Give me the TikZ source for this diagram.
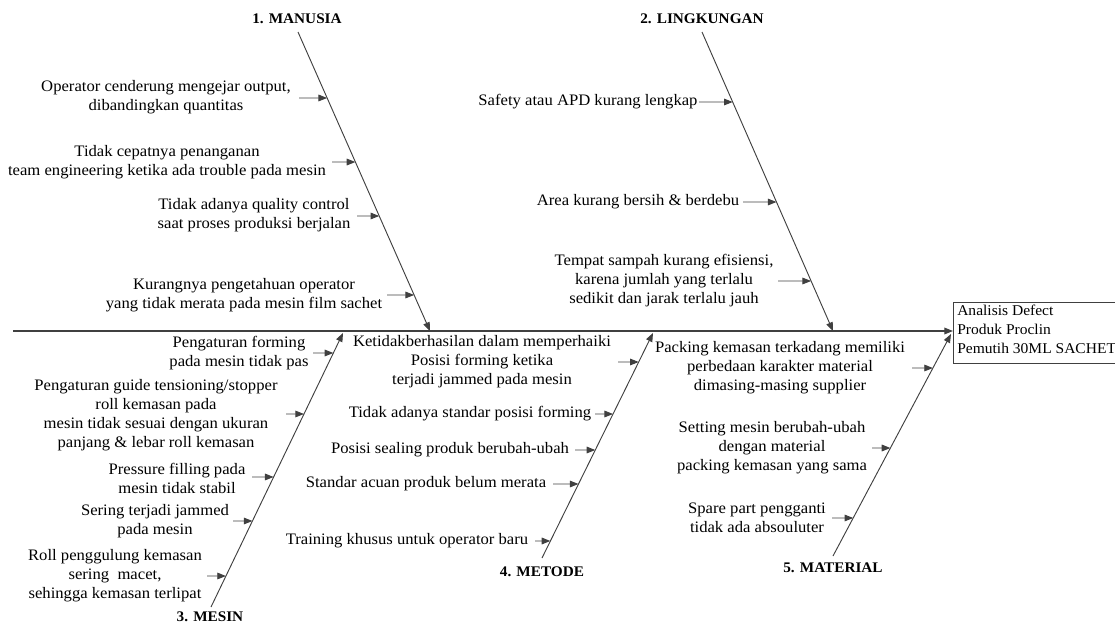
\documentclass[tikz,border=0pt]{standalone}
\usepackage{fontspec}
\setmainfont[FakeStretch=1.04]{Liberation Serif}
\usetikzlibrary{arrows.meta}
\definecolor{ln}{HTML}{404040}
\tikzset{
  bone/.style={draw=ln, line width=0.7pt, -{Triangle[length=6.5pt,width=5pt]}},
  cause/.style={draw=ln, line width=0.7pt, -{Triangle[length=6.5pt,width=5pt]}},
  txt/.style={inner sep=0pt, align=center, font=\fontsize{12}{14.25}\selectfont},
  cat/.style={inner sep=0pt, font=\fontsize{11}{12}\selectfont\bfseries},
}
\begin{document}
\begin{tikzpicture}[x=0.75pt,y=-0.75pt]
\useasboundingbox (0,0) rectangle (1115,625);
% problem box
\node[draw=ln, line width=0.6pt, anchor=north west, minimum width=126pt, minimum height=45.75pt, inner sep=0pt] (box) at (953,302) {};
\node[inner sep=0pt, anchor=north west, align=left, font=\fontsize{11.2}{14.25}\selectfont] (boxt) at (957,305) {Analisis Defect\\Produk Proclin\\Pemutih 30ML SACHET};
% spine
\coordinate (sp0) at (13,331);
\coordinate (sptip) at (953,331);
\draw[draw=ln, line width=0.9pt, -{Triangle[length=6.5pt,width=5pt]}] (sp0) -- (sptip);
% bones
\coordinate (mtop) at (298,32);  \coordinate (mtip) at (430,331);
\coordinate (ltop) at (702,32);  \coordinate (ltip) at (833,331);
\coordinate (sbot) at (211,607); \coordinate (stip) at (343,333);
\coordinate (tbot) at (542,558); \coordinate (ttip) at (653,333);
\coordinate (rbot) at (833,556); \coordinate (rtip) at (951,334);
\draw[bone] (mtop) -- (mtip);
\draw[bone] (ltop) -- (ltip);
\draw[bone] (sbot) -- (stip);
\draw[bone] (tbot) -- (ttip);
\draw[bone] (rbot) -- (rtip);
% category labels
\node[cat] (c1) at (297,19) {1. MANUSIA};
\node[cat] (c2) at (702,19) {2. LINGKUNGAN};
\node[cat] (c3) at (210,617) {3. MESIN};
\node[cat] (c4) at (542,572) {4. METODE};
\node[cat] (c5) at (833,568) {5. MATERIAL};
% points on bones
\path (mtop) -- (mtip) coordinate[pos=0.2207] (me1) coordinate[pos=0.4348] (me2) coordinate[pos=0.6154] (me3) coordinate[pos=0.8796] (me4);
\path (ltop) -- (ltip) coordinate[pos=0.2341] (le1) coordinate[pos=0.5686] (le2) coordinate[pos=0.8328] (le3);
\path (sbot) -- (stip) coordinate[pos=0.927] (se1) coordinate[pos=0.7044] (se2) coordinate[pos=0.4745] (se3) coordinate[pos=0.3139] (se4) coordinate[pos=0.1131] (se5);
\path (tbot) -- (ttip) coordinate[pos=0.8711] (te1) coordinate[pos=0.64] (te2) coordinate[pos=0.48] (te3) coordinate[pos=0.3289] (te4) coordinate[pos=0.0756] (te5);
\path (rbot) -- (rtip) coordinate[pos=0.8468] (re1) coordinate[pos=0.4865] (re2) coordinate[pos=0.1712] (re3);
% MANUSIA causes
\node[txt] (m1) at (166,97) {Operator cenderung mengejar output,\\dibandingkan quantitas};
\node[txt] (m2) at (167,162) {Tidak cepatnya penanganan\\team engineering ketika ada trouble pada mesin};
\node[txt] (m3) at (254,215) {Tidak adanya quality control\\saat proses produksi berjalan};
\node[txt] (m4) at (244,295) {Kurangnya pengetahuan operator\\yang tidak merata pada mesin film sachet};
\coordinate (ms1) at (299,98);
\coordinate (ms2) at (332,162);
\coordinate (ms3) at (357,216);
\coordinate (ms4) at (387,295);
\draw[cause] (ms1) -- (me1);
\draw[cause] (ms2) -- (me2);
\draw[cause] (ms3) -- (me3);
\draw[cause] (ms4) -- (me4);
% LINGKUNGAN causes
\node[txt] (l1) at (588,102) {Safety atau APD kurang lengkap};
\node[txt] (l2) at (638,202) {Area kurang bersih \& berdebu};
\node[txt] (l3) at (664,281) {Tempat sampah kurang efisiensi,\\karena jumlah yang terlalu\\sedikit dan jarak terlalu jauh};
\coordinate (ls1) at (699,102);
\coordinate (ls2) at (743,202);
\coordinate (ls3) at (778,281);
\draw[cause] (ls1) -- (le1);
\draw[cause] (ls2) -- (le2);
\draw[cause] (ls3) -- (le3);
% MESIN causes
\node[txt] (s1) at (239,353) {Pengaturan forming\\pada mesin tidak pas};
\node[txt] (s2) at (156,415) {Pengaturan guide tensioning/stopper\\roll kemasan pada\\mesin tidak sesuai dengan ukuran\\panjang \& lebar roll kemasan};
\node[txt] (s3) at (177,478) {Pressure filling pada\\mesin tidak stabil};
\node[txt] (s4) at (155,521) {Sering terjadi jammed\\pada mesin};
\node[txt] (s5) at (115,576) {Roll penggulung kemasan\\sering\ \ macet,\\sehingga kemasan terlipat};
\coordinate (ss1) at (313,353);
\coordinate (ss2) at (286,414);
\coordinate (ss3) at (252,477);
\coordinate (ss4) at (233,521);
\coordinate (ss5) at (207,576);
\draw[cause] (ss1) -- (se1);
\draw[cause] (ss2) -- (se2);
\draw[cause] (ss3) -- (se3);
\draw[cause] (ss4) -- (se4);
\draw[cause] (ss5) -- (se5);
% METODE causes
\node[txt] (t1) at (482,362) {Ketidakberhasilan dalam memperhaiki\\Posisi forming ketika\\terjadi jammed pada mesin};
\node[txt] (t2) at (470,414) {Tidak adanya standar posisi forming};
\node[txt] (t3) at (450,450) {Posisi sealing produk berubah-ubah};
\node[txt] (t4) at (426,484) {Standar acuan produk belum merata};
\node[txt] (t5) at (407,541) {Training khusus untuk operator baru};
\coordinate (ts1) at (618,362);
\coordinate (ts2) at (595,414);
\coordinate (ts3) at (575,450);
\coordinate (ts4) at (553,484);
\coordinate (ts5) at (535,541);
\draw[cause] (ts1) -- (te1);
\draw[cause] (ts2) -- (te2);
\draw[cause] (ts3) -- (te3);
\draw[cause] (ts4) -- (te4);
\draw[cause] (ts5) -- (te5);
% MATERIAL causes
\node[txt] (r1) at (780,368) {Packing kemasan terkadang memiliki\\perbedaan karakter material\\dimasing-masing supplier};
\node[txt] (r2) at (772,448) {Setting mesin berubah-ubah\\dengan material\\packing kemasan yang sama};
\node[txt] (r3) at (757,518) {Spare part pengganti\\tidak ada absouluter};
\coordinate (rs1) at (912,368);
\coordinate (rs2) at (872,448);
\coordinate (rs3) at (832,518);
\draw[cause] (rs1) -- (re1);
\draw[cause] (rs2) -- (re2);
\draw[cause] (rs3) -- (re3);
\end{tikzpicture}
\end{document}
